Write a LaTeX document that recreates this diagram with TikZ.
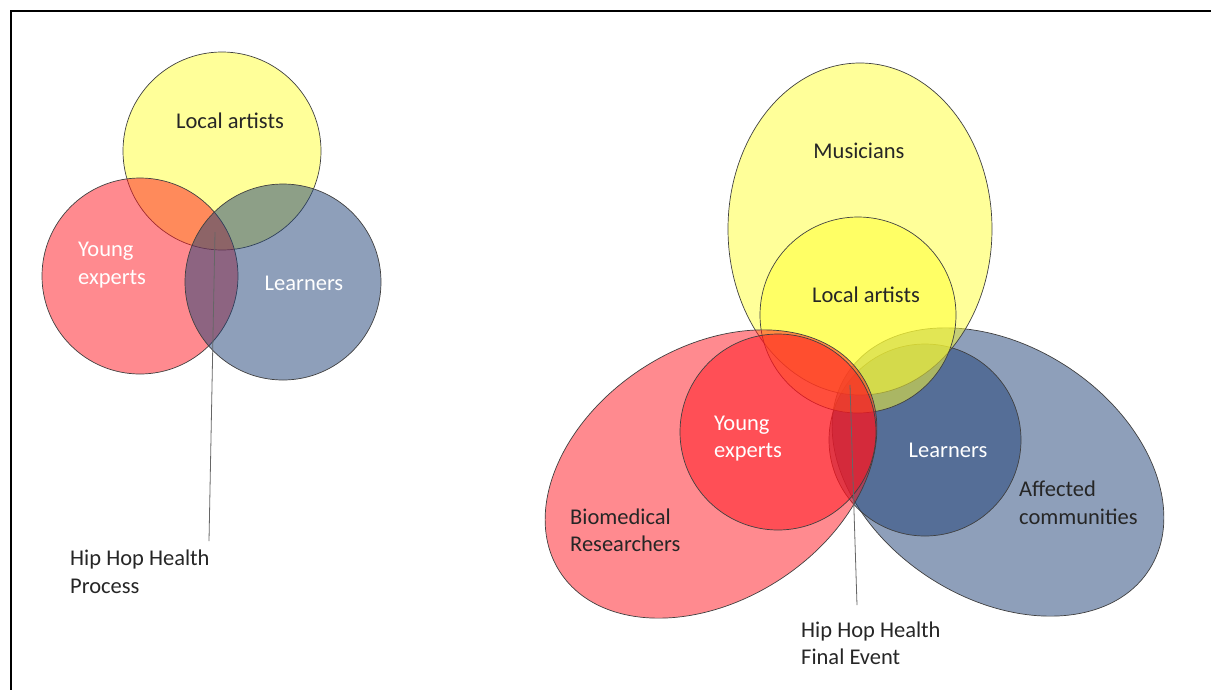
\documentclass[tikz,border=0pt]{standalone}
\usepackage{fontspec}
\setmainfont{Carlito}
\usetikzlibrary{shapes.geometric}
\definecolor{vyellow}{RGB}{255,255,51}
\definecolor{vred}{RGB}{255,21,31}
\definecolor{vblue}{RGB}{29,63,117}
\definecolor{txt}{RGB}{38,38,38}
\begin{document}
\begin{tikzpicture}[x=1pt,y=-1pt,
  venn/.style={draw=black!75, line width=0.7pt, fill opacity=0.5, inner sep=0pt, outer sep=0pt},
  vcirc/.style={venn, circle},
  vell/.style={venn, ellipse},
  lbl/.style={font=\fontsize{22.5}{27.5}\selectfont, text=txt, align=left, inner sep=0pt},
  wlbl/.style={lbl, text=white},
  pointer/.style={draw=black!60, line width=0.8pt},
  frame/.style={draw=black, line width=1.6pt}]
\useasboundingbox (0,0) rectangle (1211,689);
\coordinate (fTR) at (1213,11);
\coordinate (fTL) at (11,11);
\coordinate (fBL) at (11,691);
\draw[frame] (fTR) -- (fTL) -- (fBL);

% ---------- left diagram ----------
\node[vcirc, fill=vyellow, minimum size=198pt] (LA) at (222,151) {};
\node[vcirc, fill=vred, minimum size=196pt] (YE) at (140,276) {};
\node[vcirc, fill=vblue, minimum size=196pt] (LE) at (283,282) {};
\node[lbl] (tLA) at (230,121) {Local artists};
\node[wlbl, anchor=west] (tYE) at (78,265) {Young\\experts};
\node[wlbl] (tLE) at (304,283) {Learners};
\node[lbl, anchor=west] (tP) at (70,572) {Hip Hop Health\\Process};
\coordinate (pL1) at (215,232);
\coordinate (pL2) at (209,541);
\draw[pointer] (pL1) -- (pL2);

% ---------- right diagram ----------
\node[vell, fill=vblue, minimum width=360pt, minimum height=252pt, rotate=-33] (AC) at (998,472) {};
\node[vcirc, fill=vblue, minimum size=192pt] (LE2) at (925,440) {};
\node[vell, fill=vyellow, minimum width=264pt, minimum height=332pt] (MU) at (860,229) {};
\node[vcirc, fill=vyellow, minimum size=196pt] (LA2) at (858,315) {};
\node[vell, fill=vred, minimum width=360pt, minimum height=252pt, rotate=33] (BR) at (711,474) {};
\node[vcirc, fill=vred, minimum size=196pt] (YE2) at (778,432) {};

\node[lbl] (tMU) at (859,151) {Musicians};
\node[lbl] (tLA2) at (866,295) {Local artists};
\node[wlbl, anchor=west] (tYE2) at (714,438.5) {Young\\experts};
\node[wlbl] (tLE2) at (948,450) {Learners};
\node[lbl, anchor=west] (tBR) at (570,530.5) {Biomedical\\Researchers};
\node[lbl, anchor=west] (tAC) at (1019,503) {Affected\\communities};
\node[lbl, anchor=west] (tF) at (801,643.5) {Hip Hop Health\\Final Event};
\coordinate (pR1) at (850,385);
\coordinate (pR2) at (857,605);
\draw[pointer] (pR1) -- (pR2);
\end{tikzpicture}
\end{document}
